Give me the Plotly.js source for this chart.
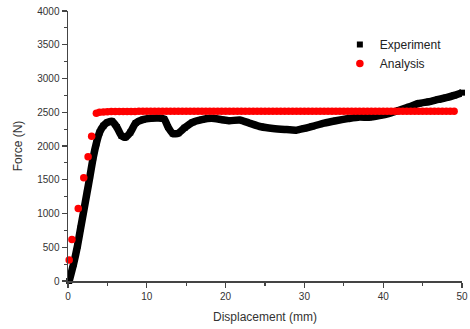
<!DOCTYPE html>
<html>
<head>
<meta charset="utf-8">
<script src="https://cdn.plot.ly/plotly-3.0.1.min.js"></script>
<style>html,body{margin:0;padding:0;background:#fff;}#chart{width:470px;height:329px;}</style>
</head>
<body>
<div id="chart"></div>
<script>
// Experiment curve (displacement mm, force N)
var expX = [0.15, 0.7, 1.2, 1.6, 2.0, 2.4, 2.8, 3.2, 3.6, 4.0, 4.5, 5.0, 5.6, 6.2, 6.8, 7.3, 7.9, 8.6, 9.5, 10.5, 11.5, 12.2, 12.7, 13.3, 14.0, 14.8, 15.8, 17.0, 18.2, 19.5, 20.5, 21.8, 23.0, 24.5, 26.0, 27.5, 29.0, 30.0, 31.0, 32.5, 34.0, 35.5, 37.0, 38.2, 39.5, 40.8, 42.0, 43.3, 44.5, 45.8, 47.0, 48.0, 49.0, 50.0];
var expY = [0, 250, 520, 780, 1040, 1300, 1560, 1830, 2040, 2200, 2300, 2350, 2365, 2280, 2150, 2130, 2200, 2340, 2390, 2410, 2415, 2400, 2280, 2185, 2190, 2270, 2350, 2390, 2410, 2390, 2375, 2385, 2340, 2285, 2260, 2245, 2235, 2260, 2290, 2340, 2375, 2405, 2430, 2425, 2450, 2485, 2530, 2580, 2630, 2656, 2690, 2715, 2750, 2790];

// Analysis points
var anaX = [0.15, 0.5, 1.3, 2.0, 2.55, 3.0, 3.6,
  4.0, 4.5, 5.0, 5.5, 6.0, 6.5, 7.0, 7.5, 8.0, 8.5, 9.0, 9.5, 10.0, 10.5, 11.0, 11.5, 12.0, 12.5, 13.0, 13.5, 14.0, 14.5, 15.0, 15.5, 16.0, 16.5, 17.0, 17.5, 18.0, 18.5, 19.0, 19.5, 20.0, 20.5, 21.0, 21.5, 22.0, 22.5, 23.0, 23.5, 24.0, 24.5, 25.0, 25.5, 26.0, 26.5, 27.0, 27.5, 28.0, 28.5, 29.0, 29.5, 30.0, 30.5, 31.0, 31.5, 32.0, 32.5, 33.0, 33.5, 34.0, 34.5, 35.0, 35.5, 36.0, 36.5, 37.0, 37.5, 38.0, 38.5, 39.0, 39.5, 40.0, 40.5, 41.0, 41.5, 42.0, 42.5, 43.0, 43.5, 44.0, 44.5, 45.0, 45.5, 46.0, 46.5, 47.0, 47.5, 48.0, 48.5, 49.0, 49.4];
var anaY = [310, 615, 1075, 1530, 1840, 2145, 2485,
  2500, 2505, 2508, 2510, 2510, 2510, 2512, 2512, 2512, 2512, 2514, 2514, 2514, 2514, 2515, 2515, 2515, 2515, 2515, 2515, 2515, 2515, 2515, 2515, 2515, 2516, 2516, 2516, 2516, 2516, 2516, 2516, 2516, 2516, 2516, 2516, 2516, 2516, 2516, 2516, 2516, 2516, 2516, 2516, 2516, 2516, 2516, 2516, 2516, 2516, 2516, 2516, 2516, 2516, 2516, 2516, 2516, 2516, 2516, 2516, 2516, 2516, 2516, 2516, 2516, 2516, 2516, 2516, 2516, 2516, 2516, 2516, 2516, 2516, 2516, 2516, 2516, 2516, 2516, 2516, 2516, 2516, 2516, 2516, 2516, 2516, 2516, 2516, 2516, 2516, 2516];

var seriesNames = ["Experiment", "Analysis"];
var xTitle = "Displacement (mm)";
var yTitle = "Force (N)";

var traces = [
  {x: expX, y: expY, mode: "lines", type: "scatter", showlegend: false,
   line: {color: "#000000", width: 7.5, shape: "spline", smoothing: 0.6}, cliponaxis: false, hoverinfo: "skip"},
  {x: expX, y: expY, mode: "markers", type: "scatter", name: seriesNames[0],
   marker: {symbol: "square", color: "#000000", size: 6}, cliponaxis: false},
  {x: anaX, y: anaY, mode: "markers", type: "scatter", name: seriesNames[1],
   marker: {symbol: "circle", color: "#ff0000", size: 7.5}, cliponaxis: false}
];

var axisCommon = {
  showgrid: false, zeroline: false, showline: true, linecolor: "#444", linewidth: 1.5,
  ticks: "outside", ticklen: 5, tickwidth: 1.2, tickcolor: "#444",
  tickfont: {family: "Liberation Sans, Arial, sans-serif", size: 10, color: "#333"},
  mirror: false
};

var layout = {
  width: 470, height: 329,
  margin: {l: 68, r: 8, t: 11, b: 48},
  paper_bgcolor: "#fff", plot_bgcolor: "#fff",
  showlegend: true,
  legend: {x: 0.69, y: 0.93, xanchor: "left", yanchor: "top", bgcolor: "rgba(0,0,0,0)",
    font: {family: "Liberation Sans, Arial, sans-serif", size: 12, color: "#222"}, tracegroupgap: 0},
  xaxis: Object.assign({}, axisCommon, {
    range: [0, 50], dtick: 10, tick0: 0,
    minor: {dtick: 5, ticks: "outside", ticklen: 3, tickcolor: "#444", tickwidth: 1.2},
    title: {text: xTitle, standoff: 12, font: {family: "Liberation Sans, Arial, sans-serif", size: 12, color: "#333"}}
  }),
  yaxis: Object.assign({}, axisCommon, {
    range: [0, 4000], dtick: 500, tick0: 0,
    minor: {dtick: 250, ticks: "outside", ticklen: 3, tickcolor: "#444", tickwidth: 1.2},
    title: {text: yTitle, standoff: 12, font: {family: "Liberation Sans, Arial, sans-serif", size: 12, color: "#333"}}
  })
};

Plotly.newPlot("chart", traces, layout, {staticPlot: true, displayModeBar: false});
</script>
</body>
</html>
